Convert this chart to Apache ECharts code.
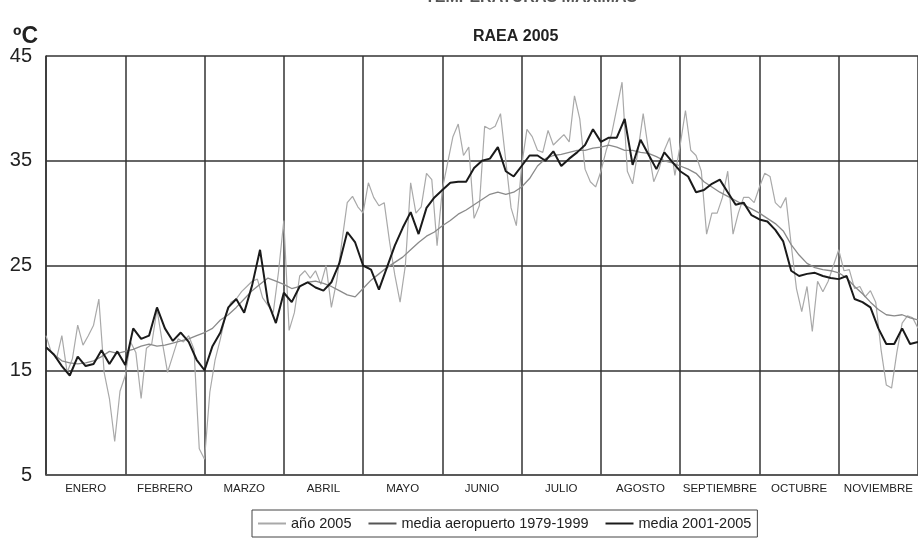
<!DOCTYPE html>
<html>
<head>
<meta charset="utf-8">
<script src="https://cdn.jsdelivr.net/npm/echarts@6/dist/echarts.min.js"></script>
<style>
html,body{margin:0;padding:0;background:#fff;}
#chart{width:918px;height:547px;}
</style>
</head>
<body>
<div id="chart"></div>
<script>
// Month labels (categories)
var months = ["ENERO","FEBRERO","MARZO","ABRIL","MAYO","JUNIO","JULIO","AGOSTO","SEPTIEMBRE","OCTUBRE","NOVIEMBRE"];
var yTicks = [5, 15, 25, 35, 45];

// año 2005 — 15 readings per month (≈ every 2 days), Jan..Nov + final
var anio2005 = [
 18.3,16.7,16.1,18.3,14.8,16.1,19.3,17.4,18.3,19.3,21.8,14.8,12.3,8.2,13.0,
 14.5,17.7,16.7,12.3,17.1,17.5,20.8,17.7,14.8,16.4,18.0,17.7,18.3,17.0,7.5,
 6.5,12.9,16.0,18.0,20.3,21.5,21.8,22.5,23.0,23.5,23.7,21.9,21.2,20.5,24.4,
 29.3,18.8,20.5,24.0,24.5,23.8,24.5,23.2,25.0,21.0,23.5,27.3,31.0,31.6,30.6,
 30.0,32.9,31.5,30.7,31.0,27.3,24.1,21.5,25.0,32.9,30.0,30.6,33.8,33.2,26.9,
 32.3,34.8,37.3,38.5,35.5,36.3,29.5,30.7,38.3,38.0,38.3,39.5,35.0,30.5,28.8,
 34.5,38.0,37.3,36.0,35.8,37.9,36.5,37.0,37.5,36.8,41.2,39.0,34.2,33.0,32.5,
 34.0,36.0,37.5,40.0,42.5,34.0,32.8,35.9,39.5,36.0,33.0,34.2,36.0,37.2,33.6,
 36.5,39.8,36.0,35.5,34.0,28.0,30.0,30.0,31.5,34.0,28.0,30.0,31.5,31.5,31.0,
 32.5,33.8,33.5,31.0,30.5,31.5,27.0,22.8,20.6,23.0,18.7,23.5,22.5,23.5,25.0,
 26.5,24.5,24.6,22.8,23.0,22.0,22.6,21.5,17.0,13.6,13.3,16.7,19.5,20.2,20.0,
 19.0
];

// media aeropuerto 1979-1999 — 10 readings per month
var mediaAeropuerto = [
 17.2,16.5,15.9,15.7,15.6,15.7,15.9,16.3,16.8,16.6,
 16.8,17.0,17.3,17.5,17.3,17.4,17.6,17.8,18.0,18.3,
 18.6,19.0,19.8,20.3,21.0,21.8,22.6,23.2,23.8,23.5,
 23.2,22.8,23.0,23.4,23.5,23.3,23.0,22.6,22.2,22.0,
 22.8,23.6,24.2,24.8,25.3,25.8,26.5,27.2,27.8,28.2,
 28.8,29.3,29.9,30.3,30.8,31.3,31.8,32.0,31.8,32.0,
 32.5,33.3,34.5,35.2,35.5,35.6,35.8,36.0,36.0,36.2,
 36.3,36.5,36.3,36.0,36.0,35.8,35.7,35.4,35.0,34.8,
 34.5,34.2,33.8,33.0,32.5,32.0,31.6,31.2,30.8,30.4,
 30.0,29.5,29.0,28.3,27.0,26.0,25.2,24.8,24.6,24.5,
 24.3,23.8,23.0,22.3,21.5,20.8,20.3,20.2,20.3,20.0,
 19.8
];

// media 2001-2005 — 10 readings per month
var media2001_2005 = [
 17.2,16.5,15.4,14.5,16.3,15.4,15.6,16.9,15.6,16.8,
 15.5,19.0,18.0,18.3,21.0,19.0,17.8,18.6,17.7,16.0,
 15.0,17.3,18.6,21.0,21.8,20.5,23.1,26.5,21.5,19.5,
 22.4,21.5,23.0,23.4,22.9,22.6,23.4,25.2,28.2,27.2,
 25.0,24.6,22.7,24.8,26.9,28.6,30.1,28.0,30.5,31.5,
 32.2,32.9,33.0,33.0,34.3,35.0,35.2,36.3,34.0,33.5,
 34.5,35.5,35.5,35.0,35.9,34.5,35.2,35.8,36.5,38.0,
 36.8,37.2,37.2,39.0,34.6,37.0,35.6,34.2,35.8,34.9,
 34.0,33.5,32.0,32.2,32.8,33.2,32.0,30.8,31.0,29.8,
 29.4,29.2,28.4,27.3,24.5,24.0,24.2,24.3,24.0,23.8,
 23.7,24.0,21.8,21.5,21.0,19.0,17.5,17.5,19.0,17.5,
 17.7
];

function toPairs(arr, perMonth){
  return arr.map(function(v,i){ return [i/perMonth, v]; });
}

var FONT = '"Liberation Sans", Arial, sans-serif';
var chart = echarts.init(document.getElementById('chart'), null, {renderer:'canvas'});
chart.setOption({
  backgroundColor:'#ffffff',
  animation:false,
  title:[
    {text:'TEMPERATURAS MÁXIMAS', left:420, top:-15,
     textStyle:{fontFamily:FONT, fontSize:16, fontWeight:'bold', color:'#555'}},
    {text:'RAEA 2005', left:468, top:24,
     textStyle:{fontFamily:FONT, fontSize:16, fontWeight:'bold', color:'#222'}},
    {text:'ºC', left:8, top:20,
     textStyle:{fontFamily:FONT, fontSize:23, fontWeight:'bold', color:'#222'}}
  ],
  legend:{
    left:252, top:510,
    itemGap:17, itemWidth:28, itemHeight:2,
    padding:[6,6,6,6],
    borderColor:'#444', borderWidth:1,
    textStyle:{fontFamily:FONT, fontSize:14.5, color:'#222'},
    data:[
      {name:'año 2005', icon:'rect'},
      {name:'media aeropuerto 1979-1999', icon:'rect'},
      {name:'media 2001-2005', icon:'rect'}
    ]
  },
  grid:{left:46, right:-3, top:56, bottom:72, containLabel:false},
  xAxis:[
    {type:'value', min:0, max:11, interval:1,
     axisLine:{show:true, lineStyle:{color:'#555', width:1.5}},
     axisTick:{show:false}, axisLabel:{show:false},
     splitLine:{show:true, lineStyle:{color:'#333', width:1.5}}},
    {type:'category', data:months, boundaryGap:true, position:'bottom',
     axisLine:{show:false}, axisTick:{show:false}, splitLine:{show:false},
     axisLabel:{fontFamily:FONT, fontSize:11.5, color:'#222', margin:8, interval:0}}
  ],
  yAxis:{type:'value', min:yTicks[0], max:yTicks[yTicks.length-1], interval:10,
    axisLine:{show:true, lineStyle:{color:'#333', width:1.5}},
    axisTick:{show:false},
    axisLabel:{fontFamily:FONT, fontSize:20, color:'#222', margin:14},
    splitLine:{show:true, lineStyle:{color:'#333', width:1.5}}},
  series:[
    {name:'año 2005', type:'line', xAxisIndex:0, data:toPairs(anio2005,15),
     symbol:'none', lineStyle:{color:'#a9a9a9', width:1.2}, itemStyle:{color:'#a9a9a9'}, z:2},
    {name:'media aeropuerto 1979-1999', type:'line', xAxisIndex:0, data:toPairs(mediaAeropuerto,10),
     symbol:'none', lineStyle:{color:'#8a8a8a', width:1.3}, itemStyle:{color:'#555'}, z:3},
    {name:'media 2001-2005', type:'line', xAxisIndex:0, data:toPairs(media2001_2005,10),
     symbol:'none', lineStyle:{color:'#1a1a1a', width:2}, itemStyle:{color:'#1a1a1a'}, z:4}
  ]
});
</script>
</body>
</html>
